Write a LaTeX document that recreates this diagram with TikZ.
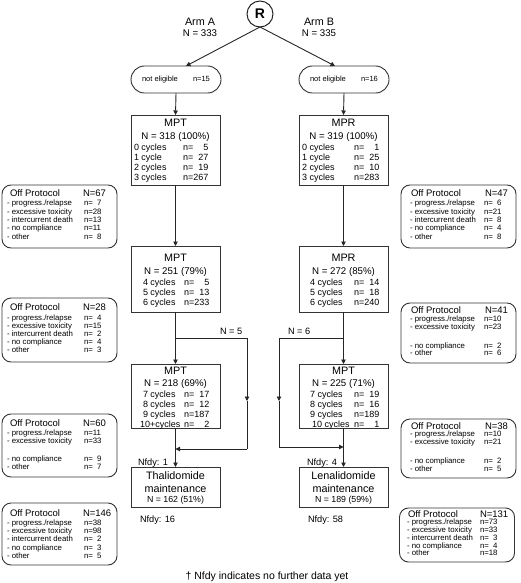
\documentclass[tikz,border=0pt]{standalone}
\usepackage{fontspec}
\setmainfont{Liberation Sans}
\usetikzlibrary{arrows.meta,calc}
\tikzset{
 every node/.style={inner sep=0pt, outer sep=0pt},
 ln/.style={draw=black!85, line width=0.9pt},
 arr/.style={ln, -{Triangle[length=4.5pt,width=4.5pt]}},
 sq/.style={draw=black!80, line width=0.9pt, rectangle, minimum width=89pt},
 pill/.style={draw=black!80, line width=0.9pt, rectangle, rounded corners=13.5pt, minimum width=90pt, minimum height=27pt},
 opb/.style={draw=black!80, line width=0.9pt, rectangle, rounded corners=9pt, minimum width=115pt},
 ttl/.style={font=\fontsize{10.8}{12}\selectfont, anchor=base},
 nn/.style={font=\fontsize{9.7}{11}\selectfont, anchor=base},
 cy/.style={font=\fontsize{9}{10}\selectfont, anchor=base west},
 opt/.style={font=\fontsize{9.5}{11}\selectfont, anchor=base west},
 opr/.style={font=\fontsize{7.8}{9}\selectfont, anchor=base west},
 ne/.style={font=\fontsize{7.5}{9}\selectfont, anchor=base west},
 lab/.style={font=\fontsize{9.2}{10}\selectfont, anchor=base west},
}
\newcommand\cyrow[6]{\node[cy] (#1l) at (#2,#4) {#5}; \node[cy] (#1v) at (#3,#4) {#6};}
\newcommand\oprow[6]{\node[opr] (#1l) at (#2,#4) {#5}; \node[opr] (#1v) at (#3,#4) {#6};}
\begin{document}
\begin{tikzpicture}[x=1pt,y=-1pt]
\useasboundingbox (0,0) rectangle (520,583);
% randomisation
\node[circle, draw=black!85, line width=1pt, minimum size=26pt, font=\bfseries\fontsize{14}{16}\selectfont] (R) at (260,14) {R};
\node[ttl] (armA) at (200,25.9) {Arm A};
\node[nn] (nA) at (200,36.3) {N = 333};
\node[ttl] (armB) at (319,25.9) {Arm B};
\node[nn] (nB) at (319,36.3) {N = 335};
% not eligible
\node[pill] (neA) at (176,79.5) {};
\node[ne] (neAl) at (142,82) {not eligible};
\node[ne] (neAv) at (193,82) {n=15};
\node[pill] (neB) at (344,79.5) {};
\node[ne] (neBl) at (310,82) {not eligible};
\node[ne] (neBv) at (361,82) {n=16};
\draw[arr] (R.south) -- ($(neA.north)+(10,0)$);
\draw[arr] (R.south) -- ($(neB.north)+(-9,0)$);
% first boxes
\node[sq, minimum height=70pt] (a1) at (175.5,150) {};
\node[ttl] (a1t) at (175.5,127) {MPT};
\node[nn] (a1n) at (175.5,139.5) {N = 318 (100\%)};
\cyrow{a1r1}{134}{183}{150.5}{0 cycles}{n=\phantom{00}5}
\cyrow{a1r2}{134}{183}{160.5}{1 cycle}{n=\phantom{0}27}
\cyrow{a1r3}{134}{183}{170.5}{2 cycles}{n=\phantom{0}19}
\cyrow{a1r4}{134}{183}{180.5}{3 cycles}{n=267}
\node[sq, minimum height=70pt] (b1) at (343.5,150) {};
\node[ttl] (b1t) at (343.5,127) {MPR};
\node[nn] (b1n) at (343.5,139.5) {N = 319 (100\%)};
\cyrow{b1r1}{302}{354}{150.5}{0 cycles}{n=\phantom{00}1}
\cyrow{b1r2}{302}{354}{160.5}{1 cycle}{n=\phantom{0}25}
\cyrow{b1r3}{302}{354}{170.5}{2 cycles}{n=\phantom{0}10}
\cyrow{b1r4}{302}{354}{180.5}{3 cycles}{n=283}
\draw[arr] (neA.south) -- (a1.north);
\draw[arr] (neB.south) -- (b1.north);
% second boxes
\node[sq, minimum height=66pt] (a2) at (175.5,279) {};
\node[ttl] (a2t) at (175.5,261.5) {MPT};
\node[nn] (a2n) at (175.5,274) {N = 251 (79\%)};
\cyrow{a2r1}{143}{184}{285.5}{4 cycles}{n=\phantom{00}5}
\cyrow{a2r2}{143}{184}{295.5}{5 cycles}{n=\phantom{0}13}
\cyrow{a2r3}{143}{184}{305.5}{6 cycles}{n=233}
\node[sq, minimum height=66pt] (b2) at (343.5,279) {};
\node[ttl] (b2t) at (343.5,261.5) {MPR};
\node[nn] (b2n) at (343.5,274) {N = 272 (85\%)};
\cyrow{b2r1}{310}{354}{285.5}{4 cycles}{n=\phantom{0}14}
\cyrow{b2r2}{310}{354}{295.5}{5 cycles}{n=\phantom{0}18}
\cyrow{b2r3}{310}{354}{305.5}{6 cycles}{n=240}
\draw[arr] (a1.south) -- (a2.north);
\draw[arr] (b1.south) -- (b2.north);
% third boxes
\node[sq, minimum height=64pt] (a3) at (175.5,396) {};
\node[ttl] (a3t) at (175.5,374) {MPT};
\node[nn] (a3n) at (175.5,386.5) {N = 218 (69\%)};
\cyrow{a3r1}{143}{184}{397.3}{7 cycles}{n=\phantom{0}17}
\cyrow{a3r2}{143}{184}{407.3}{8 cycles}{n=\phantom{0}12}
\cyrow{a3r3}{143}{184}{417.3}{9 cycles}{n=187}
\cyrow{a3r4}{140}{184}{427}{10+cycles}{n=\phantom{00}2}
\node[sq, minimum height=64pt] (b3) at (343.5,396) {};
\node[ttl] (b3t) at (343.5,374) {MPT};
\node[nn] (b3n) at (343.5,386.5) {N = 225 (71\%)};
\cyrow{b3r1}{310}{354}{397.3}{7 cycles}{n=\phantom{0}19}
\cyrow{b3r2}{310}{354}{407.3}{8 cycles}{n=\phantom{0}16}
\cyrow{b3r3}{310}{354}{417.3}{9 cycles}{n=189}
\cyrow{b3r4}{312}{354}{427}{10 cycles}{n=\phantom{00}1}
\draw[arr] (a2.south) -- (a3.north);
\draw[arr] (b2.south) -- (b3.north);
% maintenance
\node[sq, minimum height=40pt] (a4) at (175.5,487) {};
\node[ttl] (a4t) at (175.5,479.5) {Thalidomide};
\node[ttl] (a4m) at (175.5,492.5) {maintenance};
\node[nn, font=\fontsize{8.8}{10}\selectfont] (a4n) at (175.5,502.5) {N = 162 (51\%)};
\node[sq, minimum height=40pt] (b4) at (343.5,487) {};
\node[ttl] (b4t) at (343.5,479.5) {Lenalidomide};
\node[ttl] (b4m) at (343.5,492.5) {maintenance};
\node[nn, font=\fontsize{8.8}{10}\selectfont] (b4n) at (343.5,502.5) {N = 189 (59\%)};
\draw[arr] (a3.south) -- (a4.north);
\draw[arr] (b3.south) -- (b4.north);
\node[lab] (nfA1) at (138,465) {Nfdy: 1};
\node[lab] (nfB1) at (307,465) {Nfdy: 4};
\node[lab] (nfA2) at (140,522.5) {Nfdy: 16};
\node[lab] (nfB2) at (308,522.5) {Nfdy: 58};
% bypass branches
\coordinate (brA0) at (175.5,338);
\coordinate (brA1) at (247,338);
\coordinate (brA2) at (247,401);
\coordinate (brA3) at (247,449);
\coordinate (brA4) at (175.5,449);
\draw[ln] (brA0) -- (brA1);
\draw[arr] (brA1) -- (brA2);
\draw[ln] (brA2) -- (brA3);
\draw[arr] (brA3) -- (brA4);
\node[lab] (n5) at (220,334.2) {N = 5};
\coordinate (brB0) at (343.5,338);
\coordinate (brB1) at (279,338);
\coordinate (brB2) at (279,401);
\coordinate (brB3) at (279,447);
\coordinate (brB4) at (343.5,447);
\draw[ln] (brB0) -- (brB1);
\draw[arr] (brB1) -- (brB2);
\draw[ln] (brB2) -- (brB3);
\draw[arr] (brB3) -- (brB4);
\node[lab] (n6) at (288,334.2) {N = 6};
% off protocol left
\node[opb, minimum height=63pt] (oa1) at (59.5,216.5) {};
\node[opt] (oa1t) at (10,196.4) {Off Protocol};
\node[opt] (oa1n) at (83,196.4) {N=67};
\oprow{oa1a}{7}{84}{205.8}{- progress./relapse}{n=\phantom{0}7}
\oprow{oa1b}{7}{84}{214.1}{- excessive toxicity}{n=28}
\oprow{oa1c}{7}{84}{222.4}{- intercurrent death}{n=13}
\oprow{oa1d}{7}{84}{230.7}{- no compliance}{n=11}
\oprow{oa1e}{7}{84}{239}{- other}{n=\phantom{0}8}
\node[opb, minimum height=64pt] (oa2) at (59.5,330) {};
\node[opt] (oa2t) at (10,310.4) {Off Protocol};
\node[opt] (oa2n) at (83,310.4) {N=28};
\oprow{oa2a}{7}{84}{320.8}{- progress./relapse}{n=\phantom{0}4}
\oprow{oa2b}{7}{84}{328.3}{- excessive toxicity}{n=15}
\oprow{oa2c}{7}{84}{336}{- intercurrent death}{n=\phantom{0}2}
\oprow{oa2d}{7}{84}{344.5}{- no compliance}{n=\phantom{0}4}
\oprow{oa2e}{7}{84}{352.8}{- other}{n=\phantom{0}3}
\node[opb, minimum height=63pt] (oa3) at (59.5,445.5) {};
\node[opt] (oa3t) at (10,426.4) {Off Protocol};
\node[opt] (oa3n) at (83,426.4) {N=60};
\oprow{oa3a}{7}{84}{435.8}{- progress./relapse}{n=11}
\oprow{oa3b}{7}{84}{443.8}{- excessive toxicity}{n=33}
\oprow{oa3d}{7}{84}{461.8}{- no compliance}{n=\phantom{0}9}
\oprow{oa3e}{7}{84}{469.8}{- other}{n=\phantom{0}7}
\node[opb, minimum height=62pt] (oa4) at (59.5,534) {};
\node[opt] (oa4t) at (10,516.4) {Off Protocol};
\node[opt] (oa4n) at (83,516.4) {N=146};
\oprow{oa4a}{7}{84}{525.8}{- progress./relapse}{n=38}
\oprow{oa4b}{7}{84}{533.8}{- excessive toxicity}{n=98}
\oprow{oa4c}{7}{84}{541.8}{- intercurrent death}{n=\phantom{0}2}
\oprow{oa4d}{7}{84}{550.8}{- no compliance}{n=\phantom{0}3}
\oprow{oa4e}{7}{84}{558.8}{- other}{n=\phantom{0}5}
% off protocol right
\node[opb, minimum height=63pt] (ob1) at (458.5,216.5) {};
\node[opt] (ob1t) at (411,196.4) {Off Protocol};
\node[opt] (ob1n) at (485,196.4) {N=47};
\oprow{ob1a}{410}{484}{205.8}{- progress./relapse}{n=\phantom{0}6}
\oprow{ob1b}{410}{484}{214.1}{- excessive toxicity}{n=21}
\oprow{ob1c}{410}{484}{222.4}{- intercurrent death}{n=\phantom{0}8}
\oprow{ob1d}{410}{484}{230.7}{- no compliance}{n=\phantom{0}4}
\oprow{ob1e}{410}{484}{239}{- other}{n=\phantom{0}8}
\node[opb, minimum height=60pt] (ob2) at (458.5,333) {};
\node[opt] (ob2t) at (411,313.4) {Off Protocol};
\node[opt] (ob2n) at (485,313.4) {N=41};
\oprow{ob2a}{410}{484}{321.8}{- progress./relapse}{n=10}
\oprow{ob2b}{410}{484}{329.8}{- excessive toxicity}{n=23}
\oprow{ob2d}{410}{484}{348.8}{- no compliance}{n=\phantom{0}2}
\oprow{ob2e}{410}{484}{355.8}{- other}{n=\phantom{0}6}
\node[opb, minimum height=59pt] (ob3) at (458.5,448.5) {};
\node[opt] (ob3t) at (411,429.4) {Off Protocol};
\node[opt] (ob3n) at (485,429.4) {N=38};
\oprow{ob3a}{410}{484}{436.8}{- progress./relapse}{n=10}
\oprow{ob3b}{410}{484}{444.8}{- excessive toxicity}{n=21}
\oprow{ob3d}{410}{484}{463.8}{- no compliance}{n=\phantom{0}2}
\oprow{ob3e}{410}{484}{471.8}{- other}{n=\phantom{0}5}
\node[opb, minimum height=54pt] (ob4) at (457,535) {};
\node[opt] (ob4t) at (408,517.4) {Off Protocol};
\node[opt] (ob4n) at (480,517.4) {N=131};
\oprow{ob4a}{407}{480}{524.8}{- progress./relapse}{n=73}
\oprow{ob4b}{407}{480}{532.8}{- excessive toxicity}{n=33}
\oprow{ob4c}{407}{480}{540.8}{- intercurrent death}{n=\phantom{0}3}
\oprow{ob4d}{407}{480}{548.8}{- no compliance}{n=\phantom{0}4}
\oprow{ob4e}{407}{480}{555.8}{- other}{n=18}
% footnote
\node[font=\fontsize{10.5}{12}\selectfont, anchor=base] (foot) at (267,579.5) {† Nfdy indicates no further data yet};
\end{tikzpicture}
\end{document}
